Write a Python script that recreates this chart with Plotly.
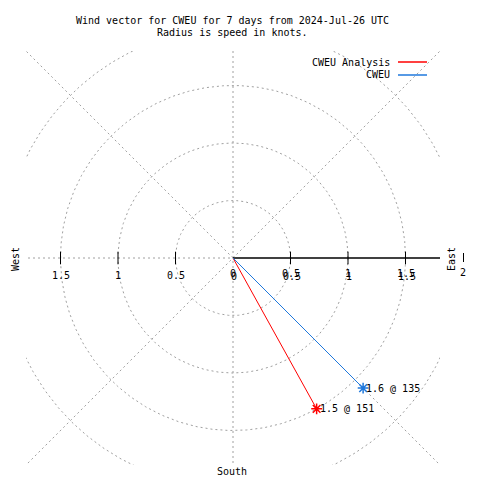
import numpy as np
import plotly.graph_objects as go

# ---- data ----
series_names = ["CWEU Analysis", "CWEU"]
speeds = [1.5, 1.6]          # knots
directions = [151, 135]      # degrees (compass)
series_colors = ["#ff0000", "#1f78dc"]

ring_radii = [0.5, 1.0, 1.5, 2.0]
spoke_angles = [45, 135]
tick_vals = [-1.5, -1.0, -0.5, 0.0, 0.5, 1.0, 1.5]
tick_text = ["1.5", "1", "0.5", "0", "0.5", "1", "1.5"]

title_lines = ["Wind vector for CWEU for 7 days from 2024-Jul-26 UTC",
               "Radius is speed in knots."]

FONT = "DejaVu Sans Mono"
GRID = "#a0a0a0"
OFF = 8            # browser default body margin
W = H = 480 - OFF

def px(xp):
    return (xp - OFF) / W

def py(yp):
    return 1 - (yp - OFF) / H

fig = go.Figure()

grid_line = dict(color=GRID, width=1, dash="2px,3px")
# rings
th = np.linspace(0, 2 * np.pi, 721)
for r in ring_radii:
    fig.add_trace(go.Scatter(x=r * np.cos(th), y=r * np.sin(th), mode="lines",
                             line=grid_line, hoverinfo="skip"))
# spokes
L = 3.0
for a in spoke_angles:
    ar = np.radians(a)
    fig.add_trace(go.Scatter(x=[-L * np.cos(ar), L * np.cos(ar)],
                             y=[-L * np.sin(ar), L * np.sin(ar)],
                             mode="lines", line=grid_line, hoverinfo="skip"))
fig.add_trace(go.Scatter(x=[0, 0], y=[-L, L], mode="lines", line=grid_line, hoverinfo="skip"))
fig.add_trace(go.Scatter(x=[-L, 0], y=[0, 0], mode="lines", line=grid_line, hoverinfo="skip"))

# black axis on east side
fig.add_trace(go.Scatter(x=[0, 1.8], y=[0, 0], mode="lines",
                         line=dict(color="black", width=1.5), hoverinfo="skip"))
# tick marks
fig.add_trace(go.Scatter(x=[v for v in tick_vals if v != 0], y=[0] * 6, mode="markers",
                         marker=dict(symbol="line-ns", size=9,
                                     line=dict(color="black", width=1)),
                         hoverinfo="skip"))

# wind vectors
for name, s, d, c in zip(series_names, speeds, directions, series_colors):
    dr = np.radians(d)
    xe, ye = s * np.sin(dr), s * np.cos(dr)
    fig.add_trace(go.Scatter(x=[0, xe], y=[0, ye], mode="lines",
                             line=dict(color=c, width=1), name=name))
    fig.add_trace(go.Scatter(x=[xe], y=[ye], mode="markers",
                             marker=dict(symbol="asterisk", size=9,
                                         line=dict(color=c, width=1.5))))
    fig.add_annotation(x=xe, y=ye, xref="x", yref="y", text=f"{s} @ {d}",
                       showarrow=False, xanchor="left", yanchor="middle", xshift=1,
                       font=dict(family=FONT, size=10, color="black"))

# tick labels
for v, t in zip(tick_vals, tick_text):
    shifts = [(0, -17)] if v < 0 else [(0, -15), (1, -18)]
    for xs, ys in shifts:
        fig.add_annotation(x=v, y=0, xref="x", yref="y", text=t, showarrow=False,
                           xanchor="center", yanchor="middle", xshift=xs, yshift=ys,
                           font=dict(family=FONT, size=10, color="black"))

# titles
for i, t in enumerate(title_lines):
    fig.add_annotation(x=px(232), y=py(20 + 13 * i), xref="paper", yref="paper",
                       text=t, showarrow=False, xanchor="center", yanchor="middle",
                       font=dict(family=FONT, size=10, color="black"))

# compass labels
txt = dict(family=FONT, size=10, color="black")
fig.add_annotation(x=px(451), y=py(259), xref="paper", yref="paper", text="East",
                   textangle=-90, showarrow=False, xanchor="center", yanchor="middle",
                   font=txt)
fig.add_annotation(x=px(15), y=py(259), xref="paper", yref="paper", text="West",
                   textangle=-90, showarrow=False, xanchor="center", yanchor="middle",
                   font=txt)
fig.add_annotation(x=px(232), y=py(471), xref="paper", yref="paper", text="South",
                   showarrow=False, xanchor="center", yanchor="middle", font=txt)
fig.add_shape(type="line", xref="paper", yref="paper",
              x0=px(463.5), x1=px(463.5), y0=py(253), y1=py(262),
              line=dict(color="black", width=1))
fig.add_annotation(x=px(463), y=py(272), xref="paper", yref="paper", text="2",
                   showarrow=False, xanchor="center", yanchor="middle", font=txt)

# legend
for i, (name, c) in enumerate(zip(series_names, series_colors)):
    yy = 62 + 13 * i
    fig.add_annotation(x=px(392), y=py(yy), xref="paper", yref="paper", text=name,
                       showarrow=False, xanchor="right", yanchor="middle", font=txt)
    fig.add_shape(type="line", xref="paper", yref="paper",
                  x0=px(398), x1=px(427), y0=py(yy), y1=py(yy),
                  line=dict(color=c, width=1.5))

fig.update_layout(
    width=W, height=H, margin=dict(l=0, r=0, t=0, b=0),
    paper_bgcolor="white", plot_bgcolor="white", showlegend=False,
    xaxis=dict(domain=[px(26), px(440)], range=[-1.8, 1.8], visible=False,
               fixedrange=True),
    yaxis=dict(domain=[py(465), py(51)], range=[-1.8, 1.8], visible=False,
               fixedrange=True),
)

fig.write_html("out.html")
